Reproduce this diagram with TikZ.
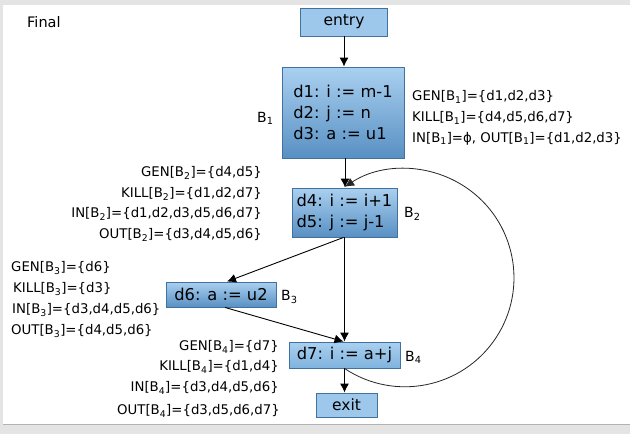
\documentclass[tikz,border=0pt]{standalone}
\usepackage{fontspec}
\setmainfont{DejaVu Sans}
\usetikzlibrary{arrows.meta,calc}
\definecolor{boxlight}{HTML}{AAD0F0}
\definecolor{boxdark}{HTML}{5890C3}
\definecolor{boxmid}{HTML}{7FB3DE}
\definecolor{boxflat}{HTML}{9DC8EB}
\definecolor{boxedge}{HTML}{41719C}
\definecolor{framegray}{HTML}{E4E4E4}
\newcommand\Bs[1]{B\textsubscript{#1}}
\begin{document}
\begin{tikzpicture}[x=1pt,y=-1pt,
  blk/.style={draw=boxedge,line width=0.9pt,top color=boxlight,bottom color=boxdark,
    inner sep=0pt,font=\fontsize{16.3}{21}\selectfont,align=left},
  blklight/.style={blk,top color=boxlight,bottom color=boxmid},
  blkflat/.style={draw=boxedge,line width=0.9pt,fill=boxflat,inner sep=0pt,
    font=\fontsize{15.5}{20.5}\selectfont},
  lbl/.style={inner sep=0pt,font=\fontsize{13.3}{16}\selectfont},
  blbl/.style={inner sep=0pt,font=\fontsize{14}{16}\selectfont,anchor=west},
  arr/.style={-{Latex[length=9pt,width=9pt]},line width=0.9pt},
  loopline/.style={-{Latex[length=9pt,width=9pt]},line width=0.8pt,draw=black!85}]
\useasboundingbox (0,0) rectangle (630,434);
\fill[framegray] (0,0) rectangle (630,434);
\fill[white] (3,5) rectangle (630,424);
\draw[black!30,line width=0.6pt] (3,424.3) -- (630,424.3);

\node[anchor=west,inner sep=0pt,font=\fontsize{14.5}{16}\selectfont] (title) at (27,22) {Final};

% blocks
\node[blkflat,minimum width=87pt,minimum height=28pt] (entry) at (344,22) {entry};
\node[blk,minimum width=122pt,minimum height=91pt] (B1) at (343,112.5)
  {d1: i := m-1\\d2: j := n\\d3: a := u1};
\node[blk,minimum width=105pt,minimum height=49pt] (B2) at (344.5,212.5)
  {d4: i := i+1\\d5: j := j-1};
\node[blk,minimum width=110pt,minimum height=25pt] (B3) at (221,294.5) {d6: a := u2};
\node[blklight,minimum width=111pt,minimum height=26pt] (B4) at (344.5,355) {d7: i := a+j};
\node[blkflat,minimum width=61pt,minimum height=24pt] (exit) at (346.5,405) {exit};

% block names
\node[blbl] (n1) at (257,118) {\Bs{1}};
\node[blbl] (n2) at (404,214) {\Bs{2}};
\node[blbl] (n3) at (281,297) {\Bs{3}};
\node[blbl] (n4) at (405,357) {\Bs{4}};

% B1 sets
\node[lbl,anchor=west] (g1) at (412,97) {GEN[\Bs{1}]=\{d1,d2,d3\}};
\node[lbl,anchor=west] (k1) at (412,118) {KILL[\Bs{1}]=\{d4,d5,d6,d7\}};
\node[lbl,anchor=west] (i1) at (412,139) {IN[\Bs{1}]=ϕ, OUT[\Bs{1}]=\{d1,d2,d3\}};

% B2 sets
\node[lbl,anchor=east] (g2) at (262,173) {GEN[\Bs{2}]=\{d4,d5\}};
\node[lbl,anchor=east] (k2) at (262,194) {KILL[\Bs{2}]=\{d1,d2,d7\}};
\node[lbl,anchor=east] (i2) at (262,214) {IN[\Bs{2}]=\{d1,d2,d3,d5,d6,d7\}};
\node[lbl,anchor=east] (o2) at (262,235) {OUT[\Bs{2}]=\{d3,d4,d5,d6\}};

% B3 sets
\node[lbl,anchor=west] (g3) at (11,268) {GEN[\Bs{3}]=\{d6\}};
\node[lbl,anchor=west] (k3) at (13,289) {KILL[\Bs{3}]=\{d3\}};
\node[lbl,anchor=west] (i3) at (12,310) {IN[\Bs{3}]=\{d3,d4,d5,d6\}};
\node[lbl,anchor=west] (o3) at (11,331) {OUT[\Bs{3}]=\{d4,d5,d6\}};

% B4 sets
\node[lbl,anchor=east] (g4) at (279,347) {GEN[\Bs{4}]=\{d7\}};
\node[lbl,anchor=east] (k4) at (279,367) {KILL[\Bs{4}]=\{d1,d4\}};
\node[lbl,anchor=east] (i4) at (279,388) {IN[\Bs{4}]=\{d3,d4,d5,d6\}};
\node[lbl,anchor=east] (o4) at (280,411) {OUT[\Bs{4}]=\{d3,d5,d6,d7\}};

% connector end points
\coordinate (b1s) at ($(B1.south)+(2,0)$);
\coordinate (b2s) at ($(B2.south)+(-1,0)$);
\coordinate (b3n) at ($(B3.north)+(6,0)$);
\coordinate (b3s) at ($(B3.south)+(4,0)$);
\coordinate (b4n) at ($(B4.north)+(-1,0)$);

% connectors
\draw[arr] (entry.south) -- (entry.south |- B1.north);
\draw[arr] (b1s) -- (b1s |- B2.north);
\draw[arr] (b2s) -- (b3n);
\draw[arr] (B2.south) -- (B4.north);
\draw[arr] (b3s) -- (b4n);
\draw[arr] (B4.south) -- (B4.south |- exit.north);
\draw[loopline] (B4.south) arc[start angle=123.7,end angle=-123.4,radius=109];
\end{tikzpicture}
\end{document}
